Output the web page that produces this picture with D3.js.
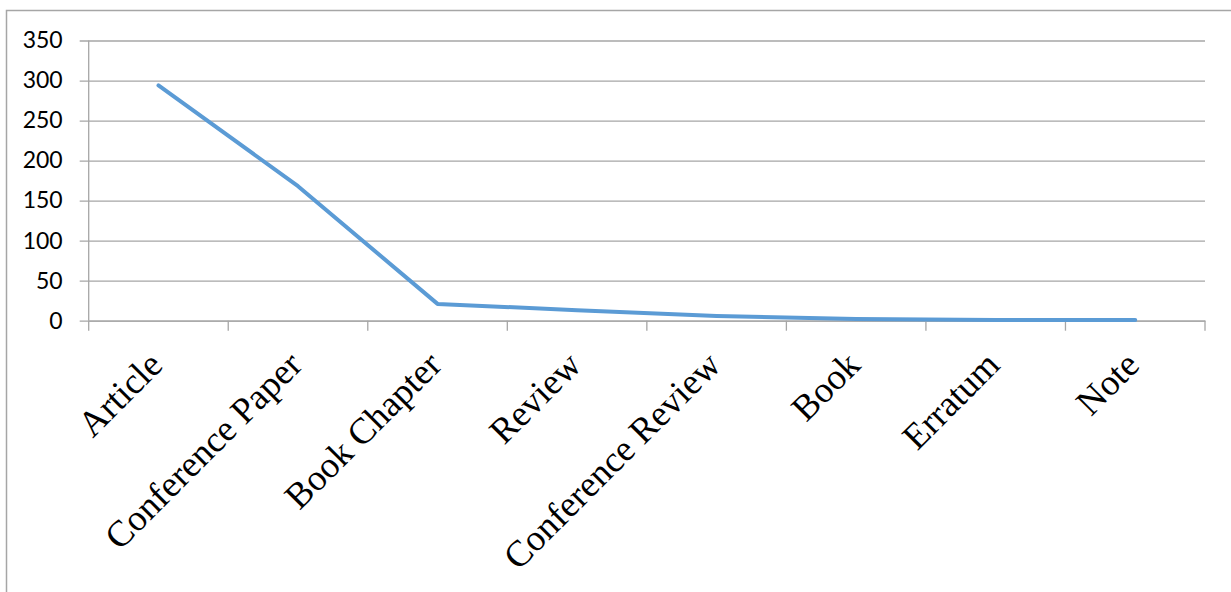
<!DOCTYPE html>
<html>
<head>
<meta charset="utf-8">
<script src="https://cdn.jsdelivr.net/npm/d3@7/dist/d3.min.js"></script>
<style>
  html, body { margin: 0; padding: 0; background: #fff; }
  svg { display: block; }
</style>
</head>
<body>
<svg id="chart" width="1231" height="592"></svg>
<script>
const categories = ["Article", "Conference Paper", "Book Chapter", "Review", "Conference Review", "Book", "Erratum", "Note"];
const values = [294, 168, 21, 13, 6, 2, 1, 1];
const yTicks = [0, 50, 100, 150, 200, 250, 300, 350];

const svg = d3.select("#chart");
const W = 1231, H = 592;
const plot = { left: 88.7, right: 1205, top: 40.5, bottom: 320.7 };

// outer border
svg.append("rect")
  .attr("x", 6.5).attr("y", 10.5)
  .attr("width", W + 20).attr("height", H + 20)
  .attr("fill", "none").attr("stroke", "#a6a6a6").attr("stroke-width", 1.5);

const x = d3.scaleBand().domain(categories).range([plot.left, plot.right]).padding(0);
const y = d3.scaleLinear().domain([0, 350]).range([plot.bottom, plot.top]);

// gridlines + y axis
const yAxis = d3.axisLeft(y).tickValues(yTicks).tickSize(-(plot.right - plot.left)).tickSizeOuter(0);
const gy = svg.append("g").attr("transform", `translate(${plot.left},0)`).call(yAxis);
gy.select(".domain").remove();
gy.selectAll(".tick line")
  .attr("x1", -9)
  .attr("stroke", "#a6a6a6").attr("stroke-width", 1.3);
gy.selectAll(".tick text")
  .attr("x", -26)
  .attr("font-family", "Lato, 'Open Sans', sans-serif")
  .attr("font-size", "23px").attr("fill", "#000");

// y axis line
svg.append("line")
  .attr("x1", plot.left).attr("x2", plot.left)
  .attr("y1", y(350)).attr("y2", plot.bottom)
  .attr("stroke", "#a6a6a6").attr("stroke-width", 1.3);

// x axis
const xAxis = d3.axisBottom(x).tickSize(0).tickFormat("");
const gx = svg.append("g").attr("transform", `translate(0,${plot.bottom})`).call(xAxis);
gx.select(".domain").attr("stroke", "#a6a6a6").attr("stroke-width", 1.3);
gx.selectAll(".tick").remove();
// category boundary ticks
const boundaries = categories.map(c => x(c)).concat([x(categories[categories.length - 1]) + x.bandwidth()]);
svg.append("g").selectAll("line").data(boundaries).join("line")
  .attr("x1", d => d).attr("x2", d => d)
  .attr("y1", plot.bottom).attr("y2", plot.bottom + 10)
  .attr("stroke", "#a6a6a6").attr("stroke-width", 1.3);

// category labels
svg.append("g").selectAll("text").data(categories).join("text")
  .attr("transform", d => `translate(${x(d) + x.bandwidth() / 2 + 6},367) rotate(-45)`)
  .attr("text-anchor", "end")
  .attr("font-family", "'Liberation Serif', 'Times New Roman', serif")
  .attr("font-size", "36.5px").attr("fill", "#000")
  .text(d => d);

// line
const line = d3.line()
  .x((d, i) => x(categories[i]) + x.bandwidth() / 2)
  .y(d => y(d));
svg.append("path").datum(values)
  .attr("d", line)
  .attr("fill", "none").attr("stroke", "#5b9bd5").attr("stroke-width", 4)
  .attr("stroke-linejoin", "round").attr("stroke-linecap", "round");
</script>
</body>
</html>
